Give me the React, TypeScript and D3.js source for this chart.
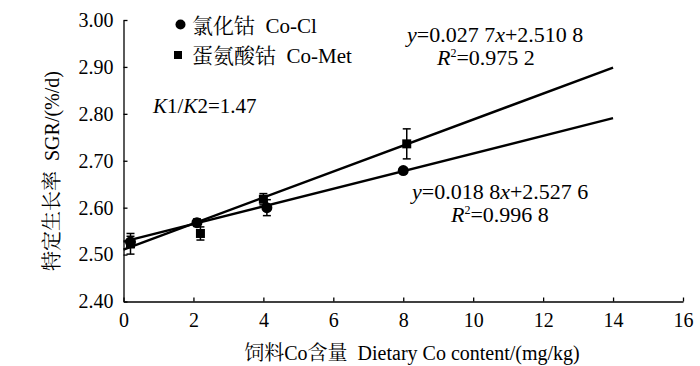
import React, { useEffect, useRef } from 'react';
import * as d3 from 'd3';

// Co-Cl (circles)
const clX = [0.2, 2.1, 4.1, 8.0];
const clY = [2.527, 2.568, 2.600, 2.679];
const clErr = [0.012, 0.008, 0.017, 0.006];

// Co-Met (squares)
const metX = [0.2, 2.2, 4.0, 8.1];
const metY = [2.523, 2.545, 2.618, 2.736];
const metErr = [0.022, 0.014, 0.012, 0.032];

// regression lines: [slope, intercept]
const clFit = [0.0188, 2.5276];
const metFit = [0.0277, 2.5108];
const fitRange = [0, 14];

const xTicks = [0, 2, 4, 6, 8, 10, 12, 14, 16];
const yTicks = [2.4, 2.5, 2.6, 2.7, 2.8, 2.9, 3.0];

const LATIN = '"Liberation Serif"';
const CJK = '"Noto Serif CJK SC"';
const SP = '\u00a0\u00a0';

type Seg = [string, 'cjk' | 'n' | 'i'];

const App = () => {
    const ref = useRef<SVGSVGElement>(null);

    useEffect(() => {
        const svg = d3.select(ref.current);
        svg.selectAll('*').remove();

        const x = d3.scaleLinear().domain([0, 16]).range([123.5, 683]);
        const y = d3.scaleLinear().domain([2.4, 3.0]).range([301.5, 20]);

        const g = svg.append('g');

        // x axis
        const xAxis = g.append('g')
            .attr('transform', `translate(0,${y(2.4)})`)
            .call(d3.axisBottom(x).tickValues(xTicks).tickSizeInner(-4).tickSizeOuter(0).tickPadding(11).tickFormat(d3.format('d')));
        xAxis.attr('font-family', LATIN).attr('font-size', 20);
        xAxis.select('.domain').attr('stroke-width', 1.3);
        xAxis.selectAll('.tick line').attr('stroke-width', 1.3);
        xAxis.selectAll('text').attr('fill', '#000').attr('font-family', LATIN);

        // y axis
        const yAxis = g.append('g')
            .attr('transform', `translate(${x(0)},0)`)
            .call(d3.axisLeft(y).tickValues(yTicks).tickSizeInner(-4).tickSizeOuter(0).tickPadding(10).tickFormat(d3.format('.2f')));
        yAxis.attr('font-family', LATIN).attr('font-size', 20);
        yAxis.select('.domain').attr('stroke-width', 1.3);
        yAxis.selectAll('.tick line').attr('stroke-width', 1.3);
        yAxis.selectAll('text').attr('fill', '#000').attr('font-family', LATIN);

        // fitted lines
        [clFit, metFit].forEach(f => {
            g.append('path')
                .attr('d', d3.line<number>().x(d => x(d)).y(d => y(f[0] * d + f[1]))(fitRange))
                .attr('fill', 'none')
                .attr('stroke', '#000')
                .attr('stroke-width', 2.4);
        });

        // error bars
        const errBars = (xs: number[], ys: number[], es: number[]) => {
            xs.forEach((xv, i) => {
                const cx = x(xv);
                const t = y(ys[i] + es[i]), b = y(ys[i] - es[i]);
                g.append('line').attr('x1', cx).attr('x2', cx).attr('y1', t).attr('y2', b).attr('stroke', '#000').attr('stroke-width', 1.5);
                [t, b].forEach(yy => g.append('line').attr('x1', cx - 4).attr('x2', cx + 4).attr('y1', yy).attr('y2', yy).attr('stroke', '#000').attr('stroke-width', 1.5));
            });
        };
        errBars(clX, clY, clErr);
        errBars(metX, metY, metErr);

        // markers
        g.selectAll('circle.cl').data(clX).enter().append('circle')
            .attr('cx', d => x(d)).attr('cy', (d, i) => y(clY[i])).attr('r', 5.5).attr('fill', '#000');
        g.selectAll('rect.met').data(metX).enter().append('rect')
            .attr('x', d => x(d) - 4.5).attr('y', (d, i) => y(metY[i]) - 4.5).attr('width', 9).attr('height', 9).attr('fill', '#000');

        // text helper
        const label = (segs: Seg[], attrs: Record<string, string | number>, size = 21) => {
            const t = g.append('text').attr('font-size', size).attr('font-family', LATIN);
            Object.entries(attrs).forEach(([k, v]) => t.attr(k, v));
            segs.forEach(([s, kind]) => {
                const ts = t.append('tspan').text(s);
                ts.attr('font-family', kind === 'cjk' ? CJK : LATIN);
                if (kind === 'i') ts.attr('font-style', 'italic');
            });
            return t;
        };

        // legend
        g.append('circle').attr('cx', 180.5).attr('cy', 24.5).attr('r', 5).attr('fill', '#000');
        label([['氯化钴', 'cjk'], [SP + 'Co-Cl', 'n']], { x: 192, y: 33 });
        g.append('rect').attr('x', 174).attr('y', 51).attr('width', 8).attr('height', 8).attr('fill', '#000');
        label([['蛋氨酸钴', 'cjk'], [SP + 'Co-Met', 'n']], { x: 192, y: 63 });

        // K1/K2
        label([['K', 'i'], ['1/', 'n'], ['K', 'i'], ['2=1.47', 'n']], { x: 153, y: 113 });

        // equations
        label([['y', 'i'], ['=0.027 7', 'n'], ['x', 'i'], ['+2.510 8', 'n']], { x: 407, y: 42 }, 22);
        label([['y', 'i'], ['=0.018 8', 'n'], ['x', 'i'], ['+2.527 6', 'n']], { x: 412, y: 199 }, 22);
        const r2 = (xp: number, yp: number, v: string) => {
            const t = label([['R', 'i']], { x: xp, y: yp }, 22);
            t.append('tspan').attr('font-family', LATIN).attr('font-size', 12).attr('dy', -8).text('2');
            t.append('tspan').attr('font-family', LATIN).attr('dy', 8).text(v);
        };
        r2(437, 65, '=0.975 2');
        r2(451, 222, '=0.996 8');

        // axis titles
        label([['饲料', 'cjk'], ['Co', 'n'], ['含量', 'cjk'], [SP + 'Dietary Co content/(mg/kg)', 'n']],
            { x: 412, y: 360, 'text-anchor': 'middle' }, 20);
        label([['特定生长率', 'cjk'], [SP + 'SGR/(%/d)', 'n']],
            { transform: 'translate(59,171) rotate(-90)', 'text-anchor': 'middle' }, 20);
    }, []);

    return <svg ref={ref} width={700} height={366} style={{ position: 'absolute', left: 0, top: 0, background: '#fff' }} />;
};

export default App;
